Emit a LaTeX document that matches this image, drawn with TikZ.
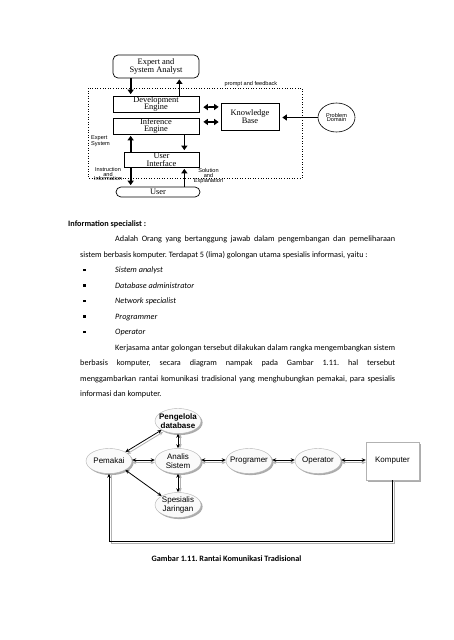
\documentclass[tikz,border=0pt]{standalone}
\usepackage{fontspec}
\setmainfont{Carlito}
\newfontfamily\timesfont{Liberation Serif}
\newfontfamily\arialfont{Liberation Sans}
\usetikzlibrary{shapes.geometric,arrows.meta,shadows,calc}
\frenchspacing

\begin{document}
\begin{tikzpicture}[x=1pt,y=-1pt,
  esbox/.style={draw,fill=white,line width=0.7pt,inner sep=0pt,align=center,
    font=\timesfont\fontsize{8.4}{7.7}\selectfont},
  tiny/.style={inner sep=0pt,align=center,font=\arialfont\fontsize{5.6}{4.7}\selectfont},
  fat/.style={line width=1.7pt,-{Triangle[length=4.5pt,width=6pt]}},
  fatboth/.style={line width=1.7pt,{Triangle[length=4.5pt,width=6pt]}-{Triangle[length=4.5pt,width=6pt]}},
  body/.style={anchor=base west,inner sep=0pt,font=\fontsize{8.2}{10}\selectfont},
  role/.style={ellipse,draw=gray!60,fill=gray!4,minimum width=46pt,minimum height=25pt,
    inner xsep=-4pt,inner ysep=0pt,align=center,
    font=\arialfont\fontsize{8}{8.3}\selectfont,
    drop shadow={shadow xshift=1.6pt,shadow yshift=-1.6pt,fill=gray!65,opacity=1}},
  link/.style={line width=0.8pt,{Stealth[length=4pt,width=3.5pt]}-{Stealth[length=4pt,width=3.5pt]}},
  linkshade/.style={link,gray!60}]

\fill[white] (0,0) rectangle (453,640);
\useasboundingbox (0,0) rectangle (453,640);

\draw[dotted,line width=0.6pt] (88,88) rectangle (302,178);
\node[esbox,rounded corners=5pt,minimum width=86pt,minimum height=23pt] (expert) at (156,66.5) {Expert and\\System Analyst};
\node[esbox,minimum width=86pt,minimum height=16pt] (dev) at (156,104) {Development\\Engine};
\node[esbox,minimum width=86pt,minimum height=16pt] (infer) at (156,126) {Inference\\Engine};
\node[esbox,minimum width=58pt,minimum height=27pt] (kb) at (250,116.5) {Knowledge\\Base};
\node[ellipse,draw,line width=0.6pt,minimum width=37pt,minimum height=29pt,tiny] (pd) at (336.5,117.5) {Problem\\Domain};
\node[esbox,minimum width=75pt,minimum height=15pt] (ui) at (161.5,159.5) {User\\Interface};
\node[esbox,rounded corners=5pt,minimum width=84pt,minimum height=10pt] (user) at (158,192) {User};

\draw[fat,shorten >=1.5pt] ([xshift=18pt]expert.south west) -- ([xshift=18pt]dev.north west);
\draw[fat,shorten >=1pt] ([xshift=-20pt]dev.north east) -- ([xshift=-20pt]expert.south east);
\draw[fatboth,shorten <=4pt,shorten >=2pt] ($(dev.north east)!0.7!(dev.south east)$) -- ($(kb.north west)!0.15!(kb.south west)$);
\draw[fatboth,shorten <=4pt,shorten >=2pt] ($(infer.north east)!0.25!(infer.south east)$) -- ($(kb.north west)!0.7!(kb.south west)$);
\draw[fat,shorten >=3pt] (pd.west) -- (kb.east |- pd.west);
\draw[fat,shorten >=1.5pt] ([xshift=7pt]ui.north west) -- ([xshift=18pt]infer.south west);
\draw[fat,shorten >=1.5pt] ([xshift=-15pt]infer.south east) -- ([xshift=-15pt]ui.north east);
\draw[fat,shorten >=1.5pt] ([xshift=7pt]ui.south west) -- ([xshift=15pt]user.north west);
\draw[fat,shorten >=1.5pt] ([xshift=-16pt]user.north east) -- ([xshift=-15pt]ui.south east);

\node[tiny] (pf) at (251,84.5) {prompt and feedback};
\node[tiny,align=left] (es) at (100.5,141.5) {Expert\\System};
\node[tiny] (ii) at (108,174) {Instruction\\and\\Information};
\node[tiny] (se) at (208.5,176) {Solution\\and\\Explanation};

\node[body,font=\fontsize{8.2}{10}\selectfont\bfseries] (head) at (68,226) {Information specialist :};
\node[body] (p1) at (115,241.5) {\makebox[280pt][s]{Adalah Orang yang bertanggung jawab dalam pengembangan dan pemeliharaan}};
\node[body] (p2) at (80,257) {sistem berbasis komputer. Terdapat 5 (lima) golongan utama spesialis informasi, yaitu :};
\foreach \t [count=\i] in {Sistem analyst,Database administrator,Network specialist,Programmer,Operator}{
  \node[body] (b\i) at (83,{257+15.5*\i}) {\rule[1.4pt]{2.6pt}{2.6pt}};
  \node[body,font=\fontsize{8.2}{10}\selectfont\itshape] (it\i) at (115,{257+15.5*\i}) {\t};
}
\node[body] (p3) at (115,350) {\makebox[280pt][s]{Kerjasama antar golongan tersebut dilakukan dalam rangka mengembangkan sistem}};
\node[body] (p4) at (80,365.5) {\makebox[315pt][s]{berbasis komputer, secara diagram nampak pada Gambar 1.11. hal tersebut}};
\node[body] (p5) at (80,381) {\makebox[315pt][s]{menggambarkan rantai komunikasi tradisional yang menghubungkan pemakai, para spesialis}};
\node[body] (p6) at (80,396.5) {informasi dan komputer.};

\node[role,font=\arialfont\fontsize{8}{8.3}\selectfont\bfseries] (db) at (178,421) {Pengelola\\database};
\node[role] (pemakai) at (109,461) {Pemakai};
\node[role] (analis) at (178,461) {Analis\\Sistem};
\node[role] (prog) at (249,461) {Programer};
\node[role] (op) at (318,461) {Operator};
\node[role] (jar) at (178,505) {Spesialis\\Jaringan};
\node[draw=gray!60,fill=white,minimum width=53pt,minimum height=38pt,inner sep=0pt,
  font=\arialfont\fontsize{8}{8.3}\selectfont,
  drop shadow={shadow xshift=1.6pt,shadow yshift=-1.6pt,fill=gray!65,opacity=1}] (komp) at (392.5,461) {Komputer};

\draw[linkshade] ([shift={(1.5,2)}]pemakai.north east) -- ([shift={(1.5,2)}]db.south west);
\draw[link] (pemakai.north east) -- (db.south west);
\draw[link] (pemakai.south east) -- (jar.north west);
\draw[linkshade] ([xshift=2pt]db.south) -- ([xshift=2pt]analis.north);
\draw[link] (db.south) -- (analis.north);
\draw[linkshade] ([xshift=2pt]analis.south) -- ([xshift=2pt]jar.north);
\draw[link] (analis.south) -- (jar.north);
\foreach \a/\b in {pemakai/analis,analis/prog,prog/op,op/komp}{
  \draw[linkshade] ([yshift=-1.5pt]\a.east) -- ([yshift=-1.5pt]\b.west);
  \draw[link] ([yshift=1pt]\a.east) -- ([yshift=1pt]\b.west);
}
\draw[gray!60,line width=0.9pt] ([shift={(2,0)}]komp.south) -- ++(0,63) -| ([shift={(2,0)}]pemakai.south);
\draw[line width=0.9pt,-{Stealth[length=4pt,width=3.5pt]}] (komp.south) -- ++(0,61) -| (pemakai.south);

\node[anchor=base,font=\fontsize{8.2}{10}\selectfont\bfseries] (cap) at (226.5,561) {Gambar 1.11. Rantai Komunikasi Tradisional};
\end{tikzpicture}
\end{document}
